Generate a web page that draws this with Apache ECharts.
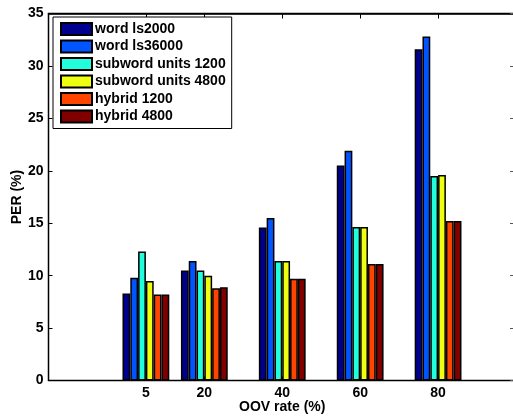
<!DOCTYPE html>
<html>
<head>
<meta charset="utf-8">
<script src="https://cdn.jsdelivr.net/npm/echarts@6/dist/echarts.min.js"></script>
<style>
  html, body { margin: 0; padding: 0; background: #fff; }
  #main { width: 513px; height: 416px; }
</style>
</head>
<body>
<div id="main"></div>
<script>
var oovRates = [5, 20, 40, 60, 80];
var seriesNames = ['word ls2000', 'word ls36000', 'subword units 1200',
    'subword units 4800', 'hybrid 1200', 'hybrid 4800'];
var wordLs2000 = [8.3, 10.5, 14.6, 20.5, 31.6];
var wordLs36000 = [9.8, 11.4, 15.5, 21.9, 32.8];
var subword1200 = [12.3, 10.5, 11.4, 14.65, 19.5];
var subword4800 = [9.5, 10.0, 11.4, 14.65, 19.6];
var hybrid1200 = [8.2, 8.8, 9.7, 11.1, 15.2];
var hybrid4800 = [8.2, 8.9, 9.7, 11.1, 15.2];
var yTicks = [0, 5, 10, 15, 20, 25, 30, 35];

var allValues = [wordLs2000, wordLs36000, subword1200, subword4800, hybrid1200, hybrid4800];
var colors = ['#00008f', '#0055ff', '#22ffdd', '#eeff11', '#ff4400', '#800000'];

var font = 'Liberation Sans, Arial, sans-serif';
var textBase = { fontFamily: font, fontWeight: 'bold', fontSize: 14, color: '#000' };

var myChart = echarts.init(document.getElementById('main'));

var series = seriesNames.map(function(name, i) {
    return {
        name: name,
        type: 'bar',
        xAxisIndex: 0,
        yAxisIndex: 0,
        barWidth: 7.8,
        barGap: '0%',
        itemStyle: {
            color: colors[i],
            borderColor: '#000',
            borderWidth: 1.5
        },
        data: oovRates.map(function(x, j) {
            return [x, allValues[i][j]];
        })
    };
});

var option = {
    animation: false,
    backgroundColor: '#fff',
    grid: {
        left: 48.5, right: -3, top: 13.5, bottom: 35.5,
        outerBoundsMode: 'none', containLabel: false,
        show: true, borderColor: '#000', borderWidth: 1.5, backgroundColor: 'rgba(0,0,0,0)'
    },
    legend: {
        orient: 'vertical',
        left: 53,
        top: 17,
        padding: [5, 6, 5, 7],
        icon: 'rect',
        itemWidth: 31,
        itemHeight: 12,
        itemGap: 3.5,
        borderColor: '#000',
        borderWidth: 1,
        backgroundColor: '#fff',
        textStyle: Object.assign({ padding: [0, 0, 0, -2] }, textBase),
        data: seriesNames
    },
    xAxis: [{
        type: 'value',
        position: 'bottom',
        min: -20,
        max: 100,
        name: 'OOV rate (%)',
        nameLocation: 'middle',
        nameGap: 20,
        nameMoveOverlap: false,
        nameTextStyle: textBase,
        splitLine: { show: false },
        axisLine: { show: true, onZero: false, lineStyle: { color: '#000', width: 1 } },
        axisTick: { show: true, inside: true, length: 4, customValues: oovRates, lineStyle: { color: '#000' } },
        axisLabel: Object.assign({ margin: 6, customValues: oovRates }, textBase)
    }, {
        type: 'value',
        position: 'top',
        min: -20,
        max: 100,
        splitLine: { show: false },
        axisLine: { show: true, onZero: false, lineStyle: { color: '#000', width: 1.5 } },
        axisTick: { show: true, inside: true, length: 5, customValues: oovRates, lineStyle: { color: '#000', width: 1 } },
        axisLabel: { show: false }
    }],
    yAxis: [{
        type: 'value',
        position: 'left',
        min: 0,
        max: 35,
        interval: 5,
        name: 'PER (%)',
        nameLocation: 'middle',
        nameGap: 24,
        nameMoveOverlap: false,
        nameTextStyle: textBase,
        splitLine: { show: false },
        axisLine: { show: true, onZero: false, lineStyle: { color: '#000', width: 1 } },
        axisTick: { show: true, inside: true, length: 4, customValues: yTicks, lineStyle: { color: '#000' } },
        axisLabel: Object.assign({ margin: 5, customValues: yTicks }, textBase)
    }, {
        type: 'value',
        position: 'right',
        min: 0,
        max: 35,
        interval: 5,
        splitLine: { show: false },
        axisLine: { show: true, onZero: false, lineStyle: { color: '#000', width: 1 } },
        axisTick: { show: true, inside: true, length: 6, lineStyle: { color: '#555' } },
        axisLabel: { show: false }
    }],
    series: series
};
myChart.setOption(option);
</script>
</body>
</html>
